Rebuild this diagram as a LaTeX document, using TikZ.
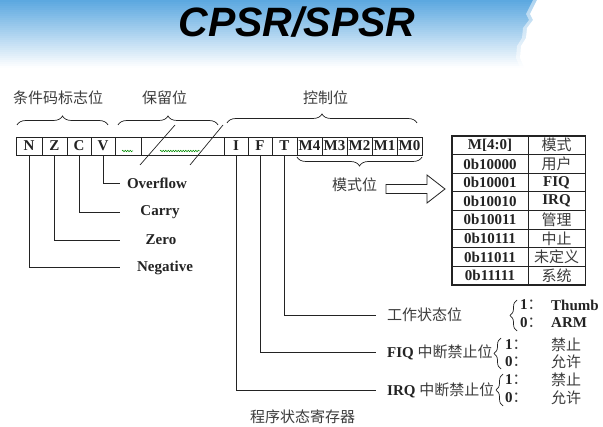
\documentclass[tikz,border=0pt]{standalone}
\usepackage{fontspec}
\setmainfont{Liberation Serif}
\newfontfamily\cjkf{Noto Sans CJK SC}
\newfontfamily\titlef{Liberation Sans}
\usetikzlibrary{decorations.pathreplacing,decorations.pathmorphing}
\definecolor{skyb}{RGB}{92,168,224}
\definecolor{ink}{RGB}{35,35,35}
\definecolor{zhink}{RGB}{60,60,60}
\newcommand\myla{\fontsize{15}{17}\selectfont\rmfamily\bfseries\color{ink}}
\newcommand\myzh{\fontsize{15}{17}\selectfont\cjkf\mdseries\color{zhink}}
\begin{document}
\begin{tikzpicture}[x=1pt,y=-1pt,
  lat/.style={font=\myla, inner sep=0},
  zh/.style={font=\myzh, inner sep=0},
  cell/.style={draw=ink, line width=0.7pt, minimum height=18, inner sep=0, font=\myla},
  tcell/.style={draw=ink, line width=0.7pt, minimum height=18.6, inner sep=0, font=\myla},
  conn/.style={draw=ink, line width=0.7pt},
  brc/.style={draw=ink, line width=0.7pt, decorate, decoration={brace, amplitude=#1}},
  brc/.default=9pt,
]
\useasboundingbox (0,0) rectangle (603,427);
\fill[white] (0,0) rectangle (603,427);
% background gradient
\foreach \k in {0,...,33} {
  \pgfmathtruncatemacro{\p}{100-3*\k}
  \fill[skyb!\p!white] (0,2*\k) rectangle (603,2*\k+2.3);
}
% white cloud at top right
\fill[white, opacity=0.5] (533,0) -- (529,8) -- (526,14) -- (529,20) -- (523,28) -- (522,38) -- (517,46) -- (516,58) -- (522,72) -- (603,72) -- (603,0) -- cycle;
\fill[white] (537,0) -- (533,8) -- (530,14) -- (533,20) -- (527,28) -- (526,38) -- (521,46) -- (520,58) -- (526,72) -- (603,72) -- (603,0) -- cycle;

% title
\node[font=\titlef\bfseries\itshape\fontsize{41}{41}\selectfont, inner sep=0] (title) at (297,22) {CPSR/SPSR};

% group labels
\node[zh, anchor=west] (lcond) at (13,98) {条件码标志位};
\node[zh, anchor=west] (lres) at (142,98) {保留位};
\node[zh, anchor=west] (lctl) at (303,98) {控制位};
\draw[brc] (17,125) -- (108,125);
\draw[brc] (118,125) -- (218,125);
\draw[brc] (227,123) -- (417,123);

% register cells
\node[cell, minimum width=26] (cN) at (29,146) {N};
\node[cell, minimum width=25] (cZ) at (54.5,146) {Z};
\node[cell, minimum width=24] (cC) at (79,146) {C};
\node[cell, minimum width=24] (cV) at (103,146) {V};
\node[cell, minimum width=26] (cR1) at (128,146) {};
\node[cell, minimum width=83] (cR2) at (182.5,146) {};
\node[cell, minimum width=24] (cI) at (236,146) {I};
\node[cell, minimum width=24] (cF) at (260,146) {F};
\node[cell, minimum width=25] (cT) at (284.5,146) {T};
\node[cell, minimum width=25] (cM4) at (309.5,146) {M4};
\node[cell, minimum width=25] (cM3) at (334.5,146) {M3};
\node[cell, minimum width=25] (cM2) at (359.5,146) {M2};
\node[cell, minimum width=25] (cM1) at (384.5,146) {M1};
\node[cell, minimum width=25] (cM0) at (409.5,146) {M0};

% reserved marks
\draw[conn] (140,165) -- (175,125);
\draw[conn] (190,165) -- (223,125);
\draw[green!55!black, line width=0.5pt, decorate, decoration={snake, amplitude=0.8pt, segment length=2.5pt}] (122,151) -- (133,151);
\draw[green!55!black, line width=0.5pt, decorate, decoration={snake, amplitude=0.8pt, segment length=2.5pt}] (160,151) -- (200,151);

% flag labels
\node[lat] (lovf) at (157,183) {Overflow};
\node[lat] (lcar) at (160,212) {Carry};
\node[lat] (lzer) at (161,240) {Zero};
\node[lat] (lneg) at (165,268) {Negative};
\coordinate (eV) at (120,183);
\coordinate (eC) at (120,212);
\coordinate (eZ) at (120,240);
\coordinate (eN) at (120,267);
\draw[conn] (cV.south) |- (eV);
\draw[conn] (cC.south) |- (eC);
\draw[conn] (cZ.south) |- (eZ);
\draw[conn] (cN.south) |- (eN);

% mode bits
\draw[brc] (422,157) -- (297,157);
\node[zh, anchor=west] (lmode) at (332,185) {模式位};
\draw[conn, line width=0.8pt] (386,184.5) -- (427,184.5) -- (427,175) -- (445,189) -- (427,203) -- (427,193.5) -- (386,193.5) -- cycle;

% mode table
\node[tcell, minimum width=76] (ta1) at (490,145.3) {M[4:0]};
\node[tcell, minimum width=57] (tb1) at (556.5,145.3) {\myzh 模式};
\foreach [count=\i from 2] \a/\b in {0b10000/\myzh 用户, 0b10001/FIQ, 0b10010/IRQ, 0b10011/\myzh 管理, 0b10111/\myzh 中止, 0b11011/\myzh 未定义, 0b11111/\myzh 系统} {
  \node[tcell, minimum width=76] (ta\i) at (490,{126.7+18.6*\i}) {\a};
  \node[tcell, minimum width=57] (tb\i) at (556.5,{126.7+18.6*\i}) {\b};
}
\draw[ink, line width=1.2pt] (ta1.north west) rectangle (tb8.south east);

% control bits
\node[zh, anchor=west] (lT) at (387,315) {工作状态位};
\node[anchor=west, inner sep=0] (lF) at (387,352) {\myla FIQ \myzh 中断禁止位};
\node[anchor=west, inner sep=0] (lI) at (387,390) {\myla IRQ \myzh 中断禁止位};
\coordinate (eT) at (376,315);
\coordinate (eF) at (376,352);
\coordinate (eI) at (376,390);
\draw[conn] (cT.south) |- (eT);
\draw[conn] (cF.south) |- (eF);
\draw[conn] (cI.south) |- (eI);

\draw[brc=7pt] (517,331) -- (517,300);
\draw[brc=7pt] (501,369) -- (501,338);
\draw[brc=7pt] (503,406) -- (503,374);

\node[anchor=west, inner sep=0] (t1n) at (520,305) {\myla 1\myzh ：};
\node[lat, anchor=west] (t1w) at (551,305) {Thumb};
\node[anchor=west, inner sep=0] (t0n) at (520,323) {\myla 0\myzh ：};
\node[lat, anchor=west] (t0w) at (551,323) {ARM};
\node[anchor=west, inner sep=0] (f1n) at (505,345) {\myla 1\myzh ：};
\node[zh, anchor=west] (f1w) at (551,345) {禁止};
\node[anchor=west, inner sep=0] (f0n) at (505,362) {\myla 0\myzh ：};
\node[zh, anchor=west] (f0w) at (551,362) {允许};
\node[anchor=west, inner sep=0] (i1n) at (505,380) {\myla 1\myzh ：};
\node[zh, anchor=west] (i1w) at (551,380) {禁止};
\node[anchor=west, inner sep=0] (i0n) at (505,398) {\myla 0\myzh ：};
\node[zh, anchor=west] (i0w) at (551,398) {允许};

\node[zh, anchor=west] (lpsr) at (250,417) {程序状态寄存器};
\end{tikzpicture}
\end{document}
